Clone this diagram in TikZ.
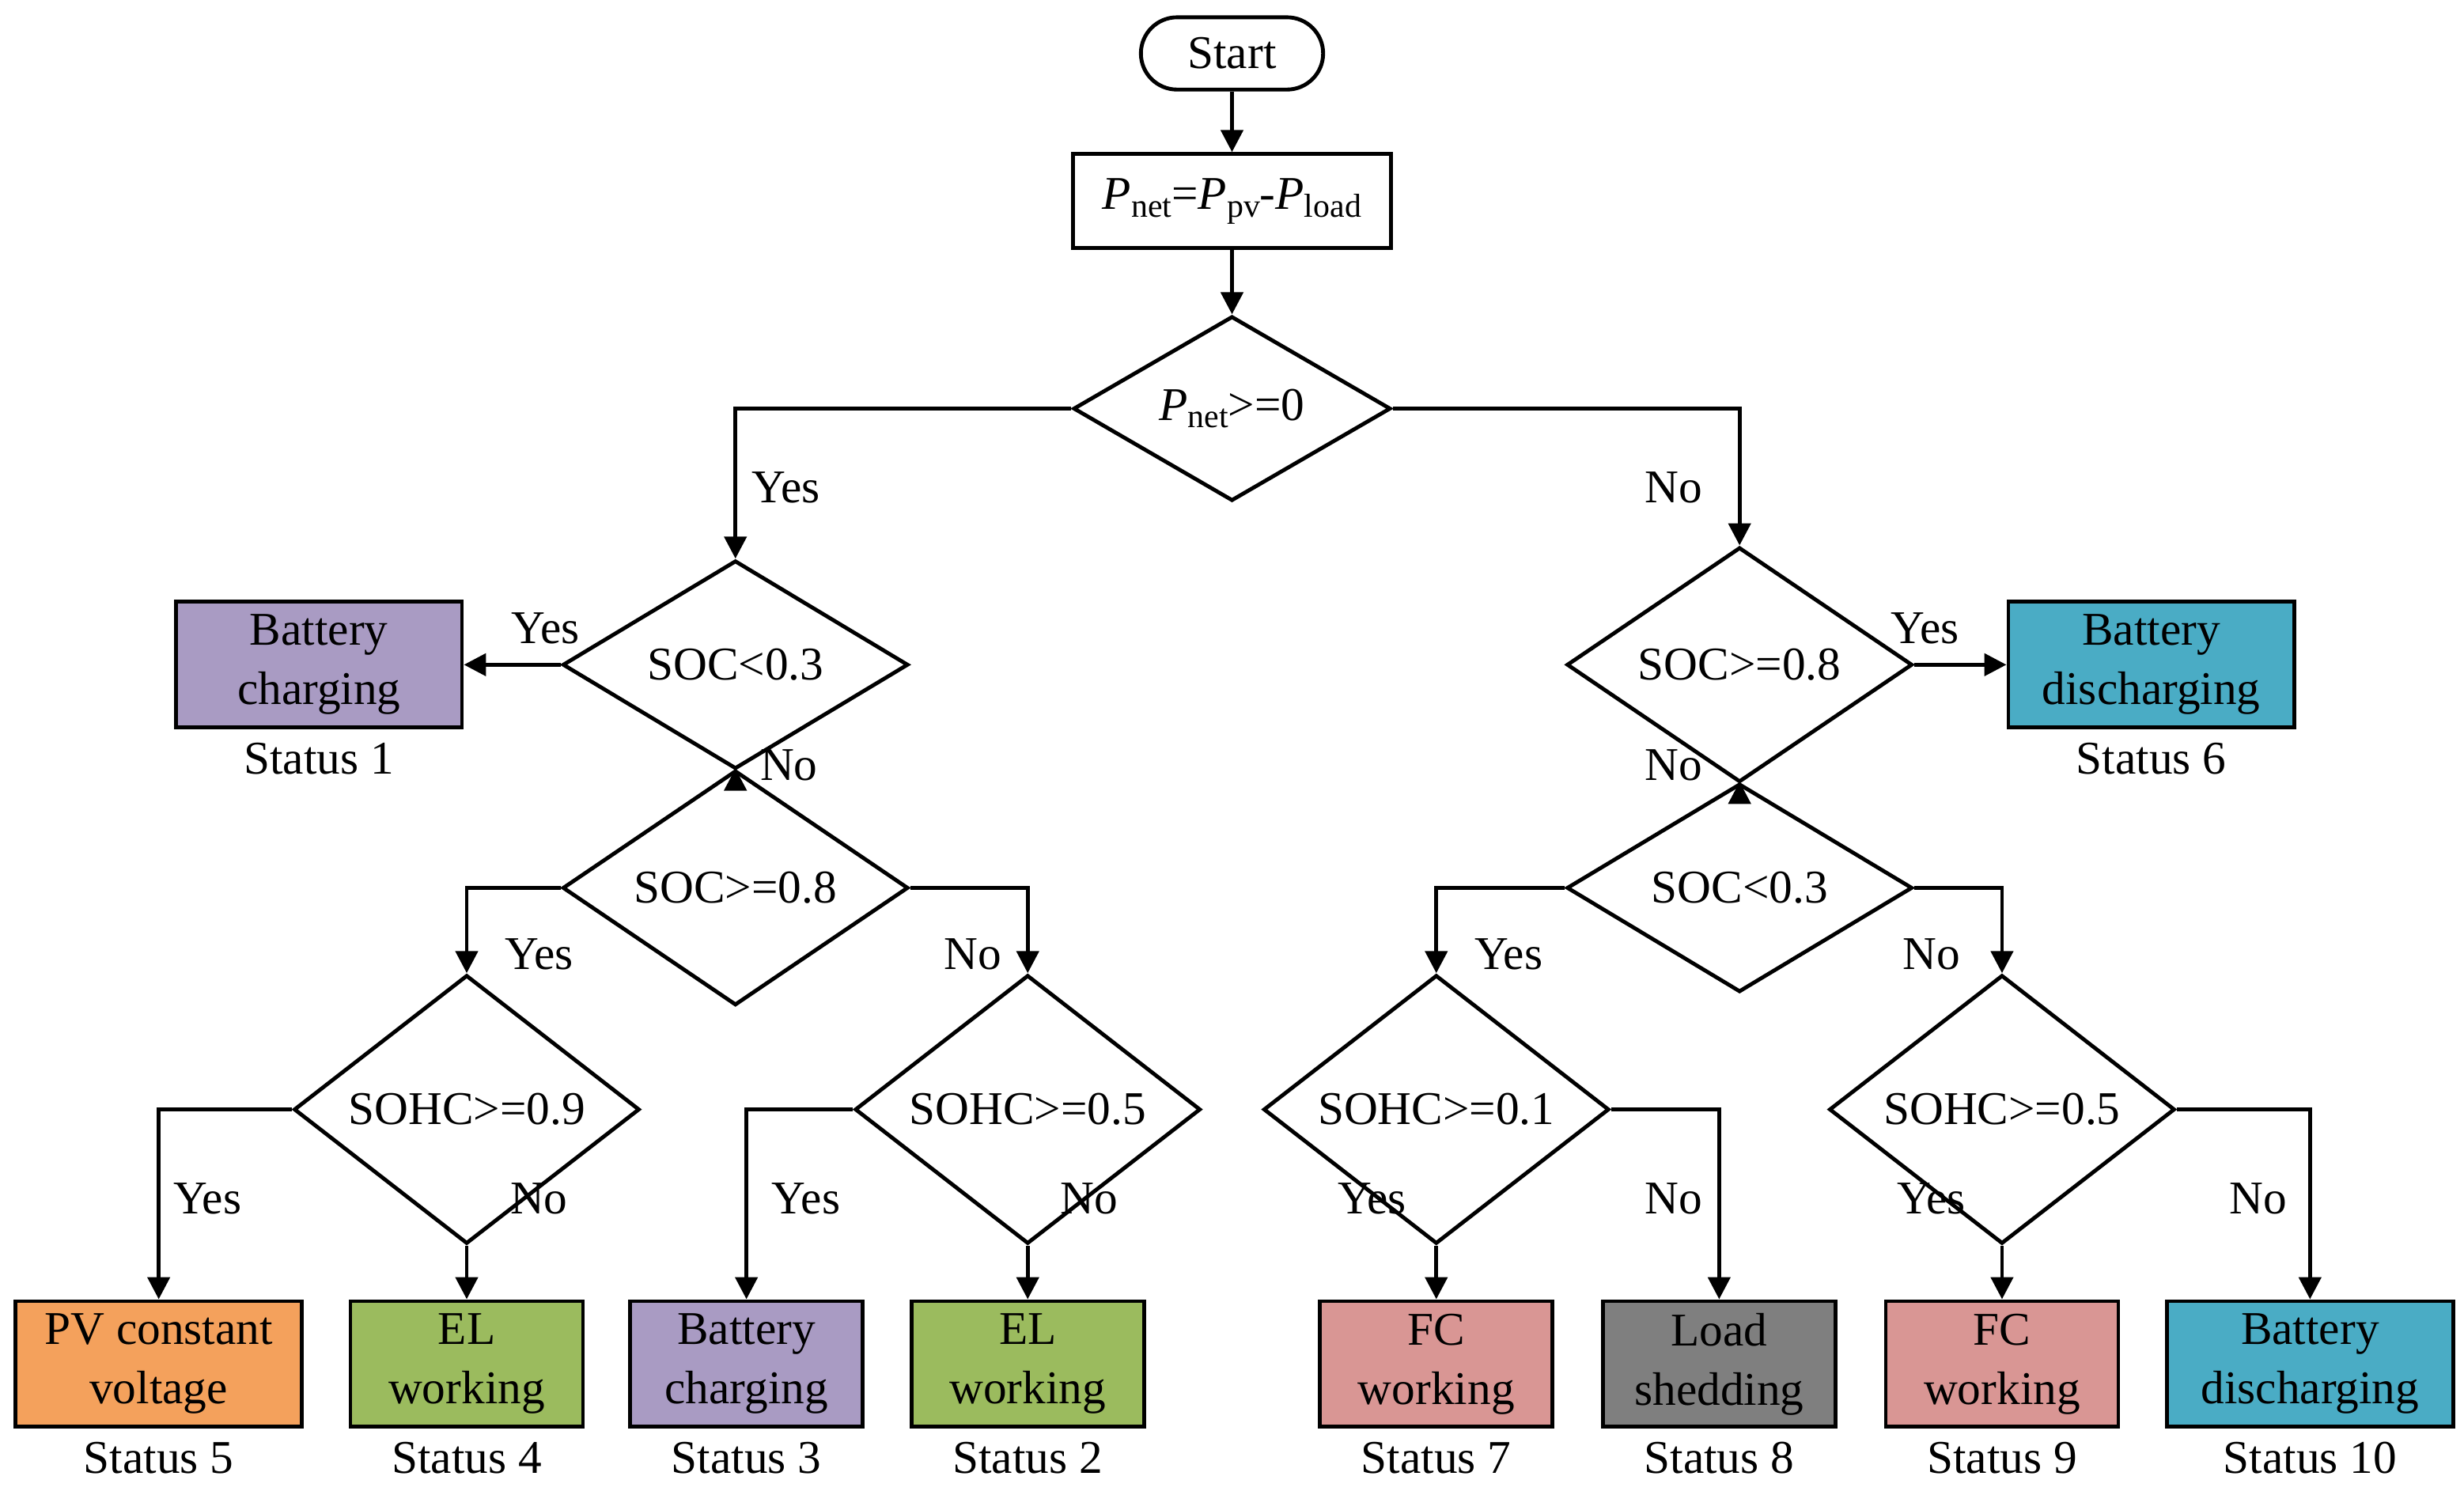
\documentclass[tikz,border=0pt]{standalone}
\usepackage{fontspec}
\setmainfont{Liberation Serif}
\usetikzlibrary{shapes.geometric,arrows.meta}
\newcommand{\Psub}[1]{\textit{P}\raisebox{-0.35ex}{\fontsize{12}{12}\selectfont #1}}
\begin{document}
\begin{tikzpicture}[x=0.02cm,y=-0.02cm,
  every node/.style={font=\fontsize{17}{21.5}\selectfont},
  line/.style={line width=1.4pt},
  arr/.style={line width=1.4pt,-{Triangle[length=8pt,width=8pt]}},
  dia/.style={diamond,draw,line width=1.4pt,inner sep=0pt,minimum width=4.4cm,minimum height=1.6cm,align=center},
  box/.style={draw,line width=1.4pt,minimum width=2.96cm,minimum height=1.6cm,align=center,inner sep=0pt},
  wbox/.style={box,minimum width=3.64cm},
  lbl/.style={inner sep=0pt}]
\useasboundingbox (0,0) rectangle (1568,951);
\definecolor{cpur}{HTML}{A99BC3}
\definecolor{cora}{HTML}{F4A15C}
\definecolor{cgre}{HTML}{9BBB5E}
\definecolor{cpin}{HTML}{D99694}
\definecolor{cgra}{HTML}{7F7F7F}
\definecolor{ctea}{HTML}{4AACC5}

\node[draw,line width=1.4pt,rounded corners=0.46cm,minimum width=2.32cm,minimum height=0.92cm] (start) at (784,34) {Start};
\node[draw,line width=1.4pt,minimum width=4.04cm,minimum height=1.2cm] (pnet) at (784,128) {\Psub{net}=\Psub{pv}-\Psub{load}};
\node[dia,minimum width=4.04cm] (d0) at (784,260) {\Psub{net}>=0};

\node[dia] (dl1) at (468,423) {SOC<0.3};
\node[dia] (dl2) at (468,565) {SOC>=0.8};
\node[dia] (dl3) at (297,706) {SOHC>=0.9};
\node[dia] (dl4) at (654,706) {SOHC>=0.5};
\node[dia] (dr1) at (1107,423) {SOC>=0.8};
\node[dia] (dr2) at (1107,565) {SOC<0.3};
\node[dia] (dr3) at (914,706) {SOHC>=0.1};
\node[dia] (dr4) at (1274,706) {SOHC>=0.5};

\node[wbox,fill=cpur] (s1) at (203,423) {Battery\\charging};
\node[wbox,fill=ctea] (s6) at (1369,423) {Battery\\discharging};
\node[wbox,fill=cora] (s5) at (101,868) {PV constant\\voltage};
\node[box,fill=cgre] (s4) at (297,868) {EL\\working};
\node[box,fill=cpur] (s3) at (475,868) {Battery\\charging};
\node[box,fill=cgre] (s2) at (654,868) {EL\\working};
\node[box,fill=cpin] (s7) at (914,868) {FC\\working};
\node[box,fill=cgra] (s8) at (1094,868) {Load\\shedding};
\node[box,fill=cpin] (s9) at (1274,868) {FC\\working};
\node[wbox,fill=ctea] (s10) at (1470,868) {Battery\\discharging};

\foreach \n/\t in {s1/Status 1,s6/Status 6,s5/Status 5,s4/Status 4,s3/Status 3,s2/Status 2,s7/Status 7,s8/Status 8,s9/Status 9,s10/Status 10}
  \node[lbl,anchor=north] at ([yshift=-0.16cm]\n.south) {\t};

\draw[arr] (start) -- (pnet);
\draw[arr] (pnet) -- (d0);
\draw[arr] (d0.west) -| (dl1.north);
\draw[arr] (d0.east) -| (dr1.north);
\draw[arr] (dl1.west) -- (s1.east);
\draw[arr] (dl1.south) -- (dl2.north);
\draw[arr] (dl2.west) -| (dl3.north);
\draw[arr] (dl2.east) -| (dl4.north);
\draw[arr] (dl3.west) -| (s5.north);
\draw[arr] (dl3.south) -- (s4.north);
\draw[arr] (dl4.west) -| (s3.north);
\draw[arr] (dl4.south) -- (s2.north);
\draw[arr] (dr1.east) -- (s6.west);
\draw[arr] (dr1.south) -- (dr2.north);
\draw[arr] (dr2.west) -| (dr3.north);
\draw[arr] (dr2.east) -| (dr4.north);
\draw[arr] (dr3.south) -- (s7.north);
\draw[arr] (dr3.east) -| (s8.north);
\draw[arr] (dr4.south) -- (s9.north);
\draw[arr] (dr4.east) -| (s10.north);

\node at (500,310) {Yes};
\node at (1065,310) {No};
\node at (347,400) {Yes};
\node at (502,487) {No};
\node at (343,607) {Yes};
\node at (619,607) {No};
\node at (132,763) {Yes};
\node at (343,763) {No};
\node at (513,763) {Yes};
\node at (693,763) {No};
\node at (1225,400) {Yes};
\node at (1065,487) {No};
\node at (960,607) {Yes};
\node at (1229,607) {No};
\node at (873,763) {Yes};
\node at (1065,763) {No};
\node at (1229,763) {Yes};
\node at (1437,763) {No};
\end{tikzpicture}
\end{document}
